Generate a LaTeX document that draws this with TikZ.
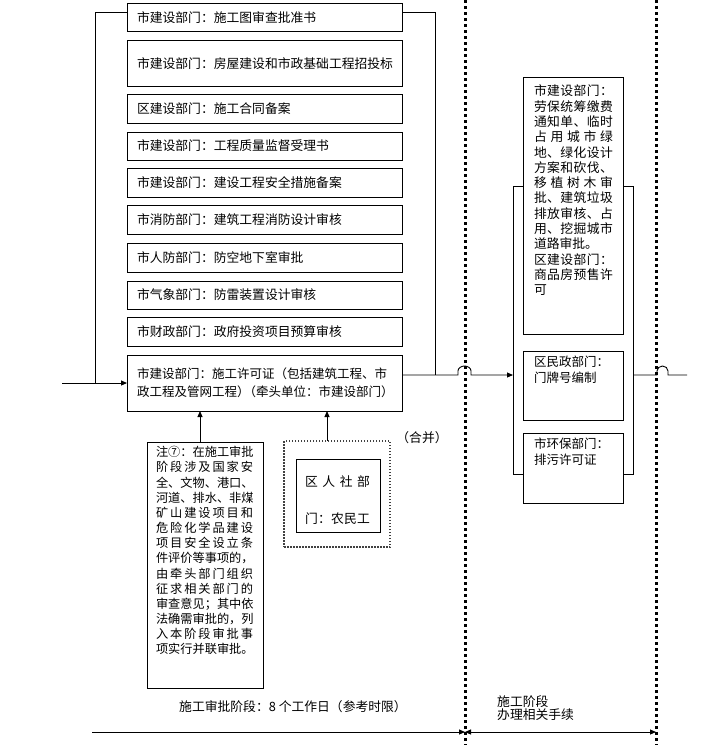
\documentclass[tikz,border=0pt]{standalone}
\usepackage{fontspec}
\setmainfont{Noto Sans CJK SC}
\usetikzlibrary{arrows.meta}
\def\jl#1#2\relax{#1\jlr#2\relax}
\def\jlr#1{\ifx\relax#1\else\hfil#1\expandafter\jlr\fi}
\newcommand\jline[2]{\leavevmode\hbox to #1{\jl#2\relax}}
\tikzset{
 ln/.style={line width=0.9pt},
 lbox/.style={draw, line width=0.9pt, fill=white, text width=255pt, inner xsep=10pt, inner ysep=0pt, outer sep=0pt, align=left, font=\fontsize{12.8}{18}\selectfont},
 tbox/.style={draw, line width=0.9pt, fill=white, inner sep=0pt, outer sep=0pt},
 arr/.style={line width=0.9pt, -{Triangle[length=6pt,width=5pt]}},
 sepline/.style={line width=3pt, dash pattern=on 3pt off 3pt},
 dbox/.style={draw=black!75, line width=1.5pt, dash pattern=on 1.5pt off 1.5pt, inner sep=0pt, outer sep=0pt, minimum width=106pt, minimum height=106pt},
 lbl/.style={inner sep=0pt, font=\fontsize{12.8}{13}\selectfont},
}
\begin{document}
\begin{tikzpicture}[x=1pt,y=-1pt]
\useasboundingbox (0,0) rectangle (713,745);
% phase separators
\coordinate (s1t) at (465,0); \coordinate (s1b) at (465,745);
\coordinate (s2t) at (656,0); \coordinate (s2b) at (656,745);
\draw[sepline] (s1t) -- (s1b);
\draw[sepline] (s2t) -- (s2b);
% left column
\node[lbox, minimum height=28pt] (b1) at (264.5,17.5) {市建设部门：施工图审查批准书};
\node[lbox, minimum height=46pt] (b2) at (264.5,63.5) {市建设部门：房屋建设和市政基础工程招投标};
\node[lbox, minimum height=29pt] (b3) at (264.5,108.5) {区建设部门：施工合同备案};
\node[lbox, minimum height=28pt] (b4) at (264.5,146) {市建设部门：工程质量监督受理书};
\node[lbox, minimum height=29pt] (b5) at (264.5,182.5) {市建设部门：建设工程安全措施备案};
\node[lbox, minimum height=29pt] (b6) at (264.5,219.5) {市消防部门：建筑工程消防设计审核};
\node[lbox, minimum height=29pt] (b7) at (264.5,257.5) {市人防部门：防空地下室审批};
\node[lbox, minimum height=28pt] (b8) at (264.5,295) {市气象部门：防雷装置设计审核};
\node[lbox, minimum height=29pt] (b9) at (264.5,331.5) {市财政部门：政府投资项目预算审核};
\node[lbox, minimum height=56pt, font=\fontsize{12.5}{18}\selectfont] (b10) at (264.5,383) {\leavevmode\hbox{市建设部门：施工许可证（包括建筑工程、市}\\\leavevmode\hbox{政工程及管网工程）\hspace{-6pt}（牵头单位：市建设部门）}};
% brackets and main flow
\coordinate (lt) at (95,12);
\coordinate (rt) at (435,12);
\coordinate (oy) at (0,375);
\coordinate (in) at (62,383);
\draw[ln] (b1.west |- lt) -- (lt) -- (lt |- b10.west);
\draw[arr] (in) -- (b10.west);
\draw[ln] (b1.east |- rt) -- (rt) -- (rt |- oy);
% right group
\node[draw, line width=0.9pt, minimum width=120pt, minimum height=288pt, inner sep=0pt, outer sep=0pt] (rg) at (573,330) {};
\draw[arr] (b10.east |- oy) -- (458,375) -- (458,371) arc[start angle=180, end angle=360, x radius=6.5, y radius=5] -- (471,375) -- (rg.west |- oy);
\node[tbox, font=\fontsize{12.8}{15.3}\selectfont] (r1) at (573,205.5) {\parbox[c][257pt][t]{100pt}{\leftskip=11pt\vspace*{8pt}%
\jline{79pt}{市建设部门：}\\
\jline{79pt}{劳保统筹缴费}\\
\jline{79pt}{通知单、临时}\\
\jline{79pt}{占用城市绿}\\
\jline{79pt}{地、绿化设计}\\
\jline{79pt}{方案和砍伐、}\\
\jline{79pt}{移植树木审}\\
\jline{79pt}{批、建筑垃圾}\\
\jline{79pt}{排放审核、占}\\
\jline{79pt}{用、挖掘城市}\\
道路审批。\\
\jline{79pt}{区建设部门：}\\
\jline{79pt}{商品房预售许}\\
可}};
\node[tbox, font=\fontsize{12.5}{16}\selectfont] (r2) at (573,385.5) {\parbox[c][69pt][t]{100pt}{\leftskip=11pt\vspace*{5pt}%
区民政部门：\\门牌号编制}};
\node[tbox, font=\fontsize{12.5}{16}\selectfont] (r3) at (573,468) {\parbox[c][70pt][t]{100pt}{\leftskip=11pt\vspace*{5pt}%
市环保部门：\\排污许可证}};
\coordinate (ex) at (687,375);
\draw[ln] (rg.east |- oy) -- (657,375) -- (657,371) arc[start angle=180, end angle=360, x radius=5.5, y radius=5] -- (668,375) -- (ex);
% note box
\node[tbox, font=\fontsize{12.2}{15.15}\selectfont] (nt) at (205,565) {\parbox[c][246pt][t]{116pt}{\leftskip=9pt\vspace*{4.5pt}%
\jline{97pt}{注⑦：在施工审批}\\
\jline{97pt}{阶段涉及国家安}\\
\jline{97pt}{全、文物、港口、}\\
\jline{97pt}{河道、排水、非煤}\\
\jline{97pt}{矿山建设项目和}\\
\jline{97pt}{危险化学品建设}\\
\jline{97pt}{项目安全设立条}\\
\jline{97pt}{件评价等事项的，}\\
\jline{97pt}{由牵头部门组织}\\
\jline{97pt}{征求相关部门的}\\
\jline{97pt}{审查意见；其中依}\\
\jline{97pt}{法确需审批的，列}\\
\jline{97pt}{入本阶段审批事}\\
\jline{97pt}{项实行并联审批。}}};
\coordinate (a1) at (200,0);
\draw[arr] (nt.north -| a1) -- (b10.south -| a1);
% dotted group
\node[dbox] (dz) at (337,494) {};
\node[tbox, font=\fontsize{12.8}{37}\selectfont] (ib) at (338,495.5) {\parbox[c][73pt][t]{84pt}{\leftskip=9pt\vspace*{17pt}%
\jline{65pt}{区人社部}\\
\jline{65pt}{门：农民工}}};
\coordinate (a2) at (327,0);
\draw[arr] (dz.north -| a2) -- (b10.south -| a2);
\node[lbl] (hb) at (422,438) {（合并）};
% bottom timeline
\coordinate (bl) at (92,732);
\coordinate (bm) at (465,732);
\coordinate (br) at (656,732);
\draw[arr] (bl) -- (bm);
\draw[line width=0.9pt, {Triangle[length=6pt,width=5pt]}-{Triangle[length=6pt,width=5pt]}] (bm) -- (br);
\node[lbl] (t1) at (293,707) {施工审批阶段：8 个工作日（参考时限）};
\node[lbl, align=left, anchor=west] (t2) at (497,708) {施工阶段\\办理相关手续};
\end{tikzpicture}
\end{document}
